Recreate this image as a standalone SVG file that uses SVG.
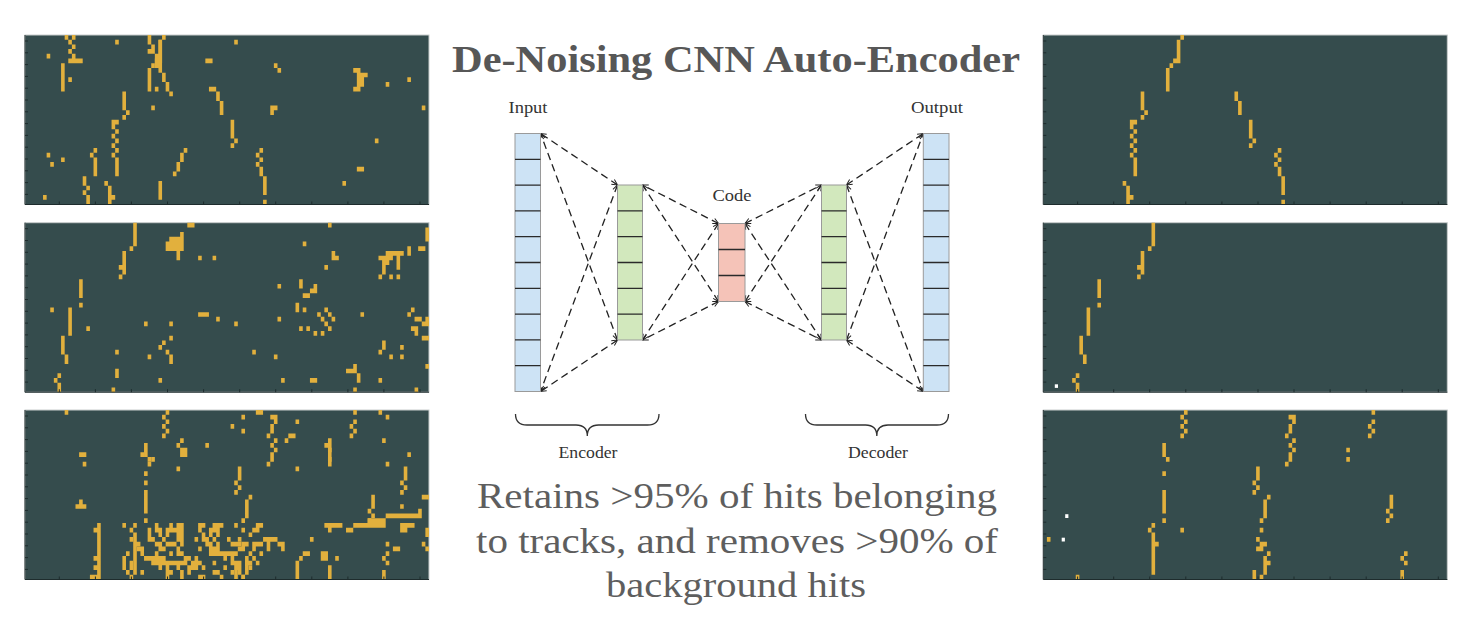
<svg xmlns="http://www.w3.org/2000/svg" xmlns:xlink="http://www.w3.org/1999/xlink" width="1480" height="632" viewBox="0 0 1480 632">
<style>
.bg{fill:#354c4d}
.frame{fill:none;stroke:#c9cdcd;stroke-width:1}
.axis{fill:none;stroke:#1e2c2d;stroke-width:1}
.hit{fill:#e2b03d}
.wdot{fill:#ffffff}
.blue{fill:#cde3f5}
.green{fill:#d2e8bd}
.pink{fill:#f5c3b8}
.outer{stroke:#9a9a9a;stroke-width:1}
.div{stroke:#2a2a2a;stroke-width:1.3}
.conn{fill:none;stroke:#222;stroke-width:1.3;stroke-dasharray:7.5 4.5;marker-start:url(#ah);marker-end:url(#ah)}
.brace{fill:none;stroke:#333;stroke-width:1.3}
.lbl{font-family:"Liberation Serif","Times New Roman",serif;font-size:16px;fill:#333}
.title{font-family:"Liberation Serif","Times New Roman",serif;font-weight:bold;font-size:38px;fill:#575757}
.cap{font-family:"Liberation Serif","Times New Roman",serif;font-size:35px;fill:#5e5e5e}
</style>
<defs>
<marker id="ah" viewBox="0 0 10 10" refX="9.5" refY="5" markerWidth="7" markerHeight="7" markerUnits="userSpaceOnUse" orient="auto-start-reverse">
<path d="M1.5,1 L9.5,5 L1.5,9" fill="none" stroke="#222" stroke-width="1.4"/>
</marker>
<path id="ticks" class="axis" d="M0 6h3M0 17.8h3M0 29.6h3M0 41.4h3M0 53.2h3M0 65h3M0 76.8h3M0 88.6h3M0 100.4h3M0 112.2h3M0 124h3M0 135.8h3M0 147.6h3M0 159.4h3M34.3 169.5v-3M70.4 169.5v-3M106.4 169.5v-3M142.5 169.5v-3M178.6 169.5v-3M214.7 169.5v-3M250.7 169.5v-3M286.8 169.5v-3M322.9 169.5v-3M358.9 169.5v-3M395 169.5v-3M0 0v169.5h404"/>
<path id="trk1" d="M38 0h1v1h-1zM37 1h1v5h-1zM36 5h1v1h-1zM35 6h1v1h-1zM34 7h1v5h-1zM27 12h1v4h-1zM28 16h1v1h-1zM27 17h1v1h-1zM24 18h2v1h-2zM24 19h1v1h-1zM25 20h1v1h-1zM24 21h1v1h-1zM25 22h1v1h-1zM24 23h1v1h-1zM25 24h1v1h-1zM24 25h1v1h-1zM25 26h1v4h-1zM53 12h1v2h-1zM54 14h1v3h-1zM57 18h1v4h-1zM58 22h1v1h-1zM57 23h1v1h-1zM65 24h1v1h-1zM64 25h1v1h-1zM65 26h1v1h-1zM64 27h1v1h-1zM65 28h1v2h-1zM66 30h1v4h-1zM66 35h1v1h-1zM22 31h1v1h-1zM23 32h1v4h-1zM24 34h1v1h-1z"/>
<path id="trk2" d="M30 0h1v5h-1zM29 5h1v1h-1zM27 6h1v5h-1zM26 9h1v1h-1zM26 11h1v1h-1zM15 12h1v4h-1zM15 17h1v1h-1zM12 18h1v6h-1zM10 24h1v4h-1zM11 28h1v2h-1zM9 32h1v1h-1zM8 33h1v1h-1zM9 34h1v2h-1z"/>
<path id="trk3" d="M39 0h1v1h-1zM38 1h1v1h-1zM39 2h1v1h-1zM38 3h1v1h-1zM39 4h1v1h-1zM38 5h1v1h-1zM33 7h1v3h-1zM34 10h1v1h-1zM33 13h1v1h-1zM33 17h1v5h-1zM33 23h1v1h-1zM30 24h1v1h-1zM29 25h1v1h-1zM30 26h1v9h-1zM31 28h1v1h-1zM68 1h2v1h-2zM69 2h1v1h-1zM68 3h1v2h-1zM67 5h1v1h-1zM69 6h1v1h-1zM68 7h1v1h-1zM69 8h1v1h-1zM68 9h1v2h-1zM67 11h1v1h-1zM91 0h1v1h-1zM91 2h1v1h-1zM90 3h1v1h-1zM91 4h1v1h-1zM90 5h1v1h-1zM84 8h1v1h-1zM84 10h1v1h-1zM59 12h1v3h-1zM58 15h1v1h-1zM59 16h1v1h-1zM58 17h1v1h-1zM62 18h1v1h-1zM61 19h1v4h-1zM60 23h1v1h-1zM60 25h1v1h-1zM59 27h1v1h-1zM60 28h2v1h-2zM59 29h2v1h-2zM62 30h1v1h-1zM61 31h1v4h-1zM62 32h1v1h-1zM58 34h1v2h-1zM60 35h1v1h-1zM96 18h1v3h-1zM95 21h1v1h-1zM96 22h1v1h-1zM95 23h1v1h-1zM100 30h1v1h-1zM99 31h1v1h-1zM100 32h1v1h-1zM99 34h1v2h-1z"/>
</defs>
<rect width="1480" height="632" fill="#ffffff"/>

<!-- Left: noisy input panels -->
<g id="panel-in-1" transform="translate(25,35)">
<rect class="bg" width="404" height="169.5"/>
<rect class="frame" x="0" y="0" width="404" height="169.5"/>
<g class="hit" transform="scale(3.607,4.708)">
<use xlink:href="#trk1"/>
<path d="M11 0h1v1h-1zM13 0h1v1h-1zM12 1h1v1h-1zM13 2h1v1h-1zM12 3h1v1h-1zM6 4h1v1h-1zM13 4h1v1h-1zM12 5h4v1h-4zM10 6h1v6h-1zM12 9h1v1h-1zM25 1h1v1h-1zM34 0h1v2h-1zM34 3h2v1h-2zM35 2h1v1h-1zM37 1h1v7h-1zM36 4h1v3h-1zM38 8h1v2h-1zM39 10h1v2h-1zM40 12h1v1h-1zM36 11h1v1h-1zM58 1h1v1h-1zM50 5h2v1h-2zM69 6h1v1h-1zM70 7h1v1h-1zM91 7h2v1h-2zM92 8h3v1h-3zM92 9h2v2h-2zM91 11h2v1h-2zM100 10h1v1h-1zM106 9h1v1h-1zM51 11h2v1h-2zM68 15h2v1h-2zM68 16h1v1h-1zM110 15h1v1h-1zM35 15h1v1h-1zM97 22h1v1h-1zM6 25h1v1h-1zM7 27h1v1h-1zM10 26h1v1h-1zM19 24h1v1h-1zM18 25h1v1h-1zM19 26h1v4h-1zM16 30h1v2h-1zM17 32h1v1h-1zM16 33h1v1h-1zM17 34h1v2h-1zM5 34h1v1h-1zM44 24h1v1h-1zM43 25h1v2h-1zM42 27h1v2h-1zM41 29h1v1h-1zM37 31h1v4h-1zM88 31h1v1h-1zM92 28h2v1h-2z"/>
</g>
<use xlink:href="#ticks"/>
</g>

<g id="panel-in-2" transform="translate(25,222.7)">
<rect class="bg" width="404" height="169.5"/>
<rect class="frame" x="0" y="0" width="404" height="169.5"/>
<g class="hit" transform="scale(3.607,4.708)">
<use xlink:href="#trk2"/>
<path d="M45 0h2v1h-2zM43 2h1v1h-1zM40 3h4v1h-4zM39 4h5v2h-5zM42 6h1v2h-1zM48 7h1v1h-1zM52 7h1v1h-1zM77 4h1v1h-1zM84 0h1v1h-1zM85 6h1v1h-1zM85 7h2v1h-2zM83 9h1v1h-1zM111 1h1v3h-1zM109 5h2v1h-2zM106 5h1v2h-1zM100 6h5v1h-5zM98 7h4v1h-4zM99 8h2v1h-2zM99 9h1v2h-1zM103 7h1v3h-1zM98 11h1v1h-1zM101 11h1v1h-1zM103 11h1v1h-1zM70 13h1v1h-1zM76 12h1v2h-1zM80 13h1v2h-1zM79 14h1v1h-1zM77 15h2v1h-2zM75 17h1v2h-1zM77 18h1v1h-1zM83 18h1v1h-1zM81 19h1v1h-1zM84 19h1v1h-1zM82 20h1v1h-1zM85 20h1v1h-1zM83 21h1v1h-1zM84 22h1v1h-1zM76 22h1v1h-1zM78 22h1v1h-1zM80 23h1v1h-1zM82 23h1v1h-1zM70 20h1v1h-1zM93 19h1v1h-1zM107 18h1v1h-1zM106 19h1v1h-1zM108 20h2v1h-2zM111 20h1v2h-1zM110 21h1v1h-1zM107 22h2v1h-2zM108 23h1v1h-1zM110 24h2v1h-2zM7 18h1v1h-1zM17 22h1v1h-1zM48 19h3v1h-3zM53 20h1v1h-1zM58 21h1v1h-1zM33 21h1v1h-1zM40 21h1v1h-1zM40 24h1v1h-1zM38 25h1v1h-1zM37 26h1v1h-1zM39 27h1v1h-1zM40 28h1v2h-1zM34 28h1v1h-1zM25 27h1v1h-1zM25 31h1v2h-1zM24 35h1v1h-1zM37 33h1v1h-1zM63 27h1v1h-1zM69 28h1v1h-1zM71 33h1v1h-1zM79 33h2v1h-2zM89 31h3v1h-3zM91 30h1v1h-1zM92 32h1v2h-1zM91 35h1v1h-1zM98 33h1v1h-1zM99 25h1v2h-1zM98 27h1v1h-1zM101 28h1v1h-1zM104 26h1v1h-1zM104 28h1v1h-1zM111 30h1v1h-1zM108 35h1v1h-1z"/>
</g>
<use xlink:href="#ticks"/>
</g>

<g id="panel-in-3" transform="translate(25,410)">
<rect class="bg" width="404" height="169.5"/>
<rect class="frame" x="0" y="0" width="404" height="169.5"/>
<g class="hit" transform="scale(3.607,4.708)">
<use xlink:href="#trk3"/>
<path d="M11 0h1v1h-1zM64 0h2v1h-2zM60 1h1v1h-1zM57 3h1v1h-1zM60 4h1v1h-1zM75 2h1v1h-1zM73 5h2v1h-2zM72 6h1v1h-1zM98 0h1v1h-1zM100 1h1v1h-1zM43 6h1v1h-1zM42 7h1v1h-1zM43 8h2v2h-2zM50 7h1v1h-1zM32 9h1v1h-1zM35 10h1v1h-1zM34 11h1v1h-1zM15 9h2v1h-2zM16 11h1v1h-1zM42 12h1v1h-1zM33 15h1v1h-1zM84 6h1v6h-1zM83 7h1v1h-1zM99 6h1v1h-1zM106 9h1v1h-1zM100 11h1v1h-1zM75 12h1v1h-1zM105 12h1v3h-1zM104 15h1v1h-1zM105 16h1v1h-1zM104 17h1v1h-1zM104 20h1v1h-1zM110 18h2v1h-2zM15 19h1v1h-1zM14 20h3v1h-3zM100 22h10v1h-10zM109 21h1v1h-1zM95 23h5v2h-5zM91 24h5v1h-5zM89 25h2v1h-2zM83 24h5v1h-5zM84 25h1v1h-1zM104 24h4v1h-4zM104 25h2v1h-2zM79 27h1v1h-1zM100 28h1v1h-1zM102 29h2v1h-2zM111 25h1v2h-1zM110 28h1v1h-1zM111 29h1v1h-1zM82 30h2v2h-2zM86 31h1v1h-1zM77 30h2v1h-2zM76 31h1v1h-1zM75 32h1v4h-1zM84 33h1v3h-1zM20 24h1v12h-1zM27 24h1v1h-1zM36 24h1v1h-1zM40 24h1v1h-1zM42 24h2v1h-2zM48 24h2v1h-2zM52 24h3v1h-3zM58 24h1v1h-1zM64 24h2v1h-2zM19 25h1v1h-1zM34 25h1v1h-1zM36 25h2v1h-2zM39 25h5v1h-5zM48 25h1v1h-1zM51 25h3v1h-3zM63 25h2v1h-2zM34 26h1v1h-1zM37 26h1v1h-1zM39 26h1v1h-1zM42 26h2v1h-2zM49 26h1v1h-1zM51 26h1v1h-1zM53 26h1v1h-1zM62 26h1v1h-1zM29 27h1v1h-1zM34 27h2v1h-2zM38 27h1v1h-1zM42 27h2v1h-2zM47 27h1v1h-1zM49 27h2v1h-2zM52 27h1v1h-1zM56 27h1v1h-1zM66 27h4v1h-4zM36 28h2v1h-2zM39 28h3v1h-3zM43 28h1v1h-1zM50 28h2v1h-2zM53 28h1v1h-1zM57 28h3v1h-3zM63 28h3v1h-3zM67 28h1v1h-1zM70 28h2v1h-2zM31 29h2v1h-2zM37 29h2v1h-2zM42 29h1v1h-1zM48 29h1v1h-1zM51 29h3v1h-3zM63 29h1v1h-1zM67 29h1v1h-1zM71 29h1v1h-1zM28 30h1v1h-1zM32 30h1v1h-1zM36 30h1v1h-1zM40 30h1v1h-1zM42 30h2v1h-2zM51 30h8v1h-8zM65 30h1v1h-1zM19 31h1v1h-1zM27 31h1v1h-1zM33 31h6v1h-6zM44 31h2v1h-2zM47 31h1v1h-1zM55 31h1v1h-1zM57 31h1v1h-1zM63 31h1v1h-1zM27 32h1v1h-1zM29 32h1v1h-1zM35 32h10v1h-10zM46 32h3v1h-3zM52 32h1v1h-1zM57 32h3v1h-3zM64 32h1v1h-1zM19 33h1v1h-1zM27 33h1v1h-1zM29 33h1v1h-1zM37 33h1v1h-1zM39 33h1v1h-1zM42 33h1v1h-1zM45 33h3v1h-3zM49 33h1v1h-1zM55 33h1v1h-1zM58 33h2v1h-2zM62 33h1v1h-1zM28 34h1v1h-1zM32 34h1v1h-1zM39 34h2v1h-2zM43 34h1v1h-1zM45 34h1v1h-1zM52 34h2v1h-2zM57 34h1v1h-1zM59 34h1v1h-1zM18 35h2v1h-2zM29 35h1v1h-1zM39 35h1v1h-1zM43 35h1v1h-1zM48 35h2v1h-2zM54 35h1v1h-1zM60 35h1v1h-1z"/>
</g>
<use xlink:href="#ticks"/>
</g>

<!-- Right: de-noised output panels -->
<g id="panel-out-1" transform="translate(1043.3,35)">
<rect class="bg" width="404" height="169.5"/>
<rect class="frame" x="0" y="0" width="404" height="169.5"/>
<g class="hit" transform="scale(3.607,4.708)"><use xlink:href="#trk1"/></g>
<use xlink:href="#ticks"/>
</g>

<g id="panel-out-2" transform="translate(1043.3,222.7)">
<rect class="bg" width="404" height="169.5"/>
<rect class="frame" x="0" y="0" width="404" height="169.5"/>
<g class="hit" transform="scale(3.607,4.708)"><use xlink:href="#trk2"/></g>
<rect class="wdot" x="11.5" y="161.6" width="3.2" height="3.6"/>
<use xlink:href="#ticks"/>
</g>

<g id="panel-out-3" transform="translate(1043.3,410)">
<rect class="bg" width="404" height="169.5"/>
<rect class="frame" x="0" y="0" width="404" height="169.5"/>
<g class="hit" transform="scale(3.607,4.708)"><use xlink:href="#trk3"/><path d="M1 27h1v1h-1zM9 35h1v1h-1zM38 25h1v1h-1z"/></g>
<rect class="wdot" x="21.9" y="104.2" width="3.2" height="3.8"/>
<rect class="wdot" x="18.4" y="127.7" width="3.2" height="3.8"/>
<use xlink:href="#ticks"/>
</g>

<!-- Title -->
<text class="title" x="736" y="72" text-anchor="middle" textLength="568" lengthAdjust="spacingAndGlyphs">De-Noising CNN Auto-Encoder</text>

<!-- Connectors -->
<g id="connectors">
<line class="conn" x1="617.5" y1="185" x2="540.5" y2="133.5"/>
<line class="conn" x1="617.5" y1="340" x2="540.5" y2="133.5"/>
<line class="conn" x1="617.5" y1="185" x2="540.5" y2="391.5"/>
<line class="conn" x1="617.5" y1="340" x2="540.5" y2="391.5"/>
<line class="conn" x1="718.5" y1="223.5" x2="642.5" y2="185"/>
<line class="conn" x1="718.5" y1="301.5" x2="642.5" y2="185"/>
<line class="conn" x1="718.5" y1="223.5" x2="642.5" y2="340"/>
<line class="conn" x1="718.5" y1="301.5" x2="642.5" y2="340"/>
<line class="conn" x1="745" y1="223.5" x2="821.5" y2="185"/>
<line class="conn" x1="745" y1="223.5" x2="821.5" y2="340"/>
<line class="conn" x1="745" y1="301.5" x2="821.5" y2="185"/>
<line class="conn" x1="745" y1="301.5" x2="821.5" y2="340"/>
<line class="conn" x1="846.5" y1="185" x2="923.3" y2="133.5"/>
<line class="conn" x1="846.5" y1="185" x2="923.3" y2="391.5"/>
<line class="conn" x1="846.5" y1="340" x2="923.3" y2="133.5"/>
<line class="conn" x1="846.5" y1="340" x2="923.3" y2="391.5"/>
</g>

<!-- Layers -->
<g id="input-layer">
<rect class="blue outer" x="515" y="133.5" width="25.5" height="258"/>
<path class="div" d="M515 159.3h25.5M515 185.1h25.5M515 210.9h25.5M515 236.7h25.5M515 262.5h25.5M515 288.3h25.5M515 314.1h25.5M515 339.9h25.5M515 365.7h25.5"/>
<text class="lbl" x="528" y="112.5" text-anchor="middle" textLength="39" lengthAdjust="spacingAndGlyphs">Input</text>
</g>
<g id="encoder-layer">
<rect class="green outer" x="617.5" y="185" width="25" height="155"/>
<path class="div" d="M617.5 210.8h25M617.5 236.7h25M617.5 262.5h25M617.5 288.3h25M617.5 314.2h25"/>
</g>
<g id="code-layer">
<rect class="pink outer" x="718.5" y="223.5" width="26.5" height="78"/>
<path class="div" d="M718.5 249.5h26.5M718.5 275.5h26.5"/>
<text class="lbl" x="732" y="201" text-anchor="middle" textLength="39" lengthAdjust="spacingAndGlyphs">Code</text>
</g>
<g id="decoder-layer">
<rect class="green outer" x="821.5" y="185" width="25" height="155"/>
<path class="div" d="M821.5 210.8h25M821.5 236.7h25M821.5 262.5h25M821.5 288.3h25M821.5 314.2h25"/>
</g>
<g id="output-layer">
<rect class="blue outer" x="923.3" y="133.5" width="25.7" height="258"/>
<path class="div" d="M923.3 159.3h25.7M923.3 185.1h25.7M923.3 210.9h25.7M923.3 236.7h25.7M923.3 262.5h25.7M923.3 288.3h25.7M923.3 314.1h25.7M923.3 339.9h25.7M923.3 365.7h25.7"/>
<text class="lbl" x="937" y="112.5" text-anchor="middle" textLength="52" lengthAdjust="spacingAndGlyphs">Output</text>
</g>

<!-- Braces -->
<g id="encoder-brace">
<path class="brace" d="M515.5 414 Q515.5 425 527 425 L576 425 Q587.3 425 587.3 436 Q587.3 425 598.6 425 L647.5 425 Q659 425 659 414"/>
<text class="lbl" x="588" y="458" text-anchor="middle" textLength="59" lengthAdjust="spacingAndGlyphs">Encoder</text>
</g>
<g id="decoder-brace">
<path class="brace" d="M805.5 414 Q805.5 425 817 425 L865.5 425 Q876.8 425 876.8 436 Q876.8 425 888 425 L937 425 Q948.5 425 948.5 414"/>
<text class="lbl" x="878" y="458" text-anchor="middle" textLength="60" lengthAdjust="spacingAndGlyphs">Decoder</text>
</g>

<!-- Caption -->
<g id="caption">
<text class="cap" x="737" y="508" text-anchor="middle" textLength="520" lengthAdjust="spacingAndGlyphs">Retains &gt;95% of hits belonging</text>
<text class="cap" x="737" y="553" text-anchor="middle" textLength="522" lengthAdjust="spacingAndGlyphs">to tracks, and removes &gt;90% of</text>
<text class="cap" x="736" y="597" text-anchor="middle" textLength="260" lengthAdjust="spacingAndGlyphs">background hits</text>
</g>
</svg>
